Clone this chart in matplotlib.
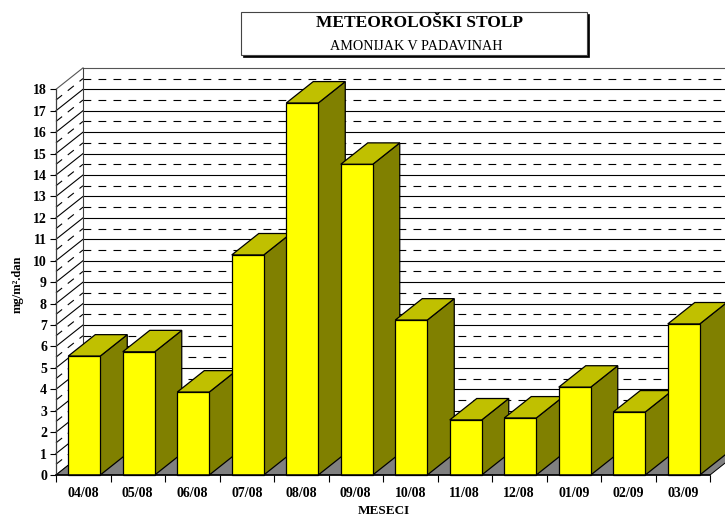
import matplotlib
matplotlib.use("Agg")
import matplotlib.pyplot as plt
from matplotlib.patches import Rectangle, Polygon

plt.rcParams['font.family'] = ['Liberation Serif', 'DejaVu Serif']

months = ['04/08', '05/08', '06/08', '07/08', '08/08', '09/08',
          '10/08', '11/08', '12/08', '01/09', '02/09', '03/09']
values = [5.55, 5.75, 3.87, 10.27, 17.36, 14.5, 7.23, 2.57, 2.66, 4.1, 2.94, 7.05]
title = 'METEOROLOŠKI STOLP'
subtitle = 'AMONIJAK V PADAVINAH'
xlabel = 'MESECI'
ylabel = 'mg/m².dan'

W, H = 725, 519
X0, X1, Y0, Y1 = 56, 710, 475, 89.3
DX = 27 / ((X1 - X0) / 12)   # depth in category units
DY = 1.0                     # depth in value units
BAR_OFF, BAR_W = 0.225, 0.587
YMAX = 18

fig = plt.figure(figsize=(W / 100, H / 100), dpi=100, facecolor='white')
ax = fig.add_axes([X0 / W, 1 - Y0 / H, (X1 - X0) / W, (Y0 - Y1) / H])
ax.set_xlim(0, 12)
ax.set_ylim(0, YMAX)
ax.patch.set_visible(False)
for s in ('top', 'right'):
    ax.spines[s].set_visible(False)
ax.spines['left'].set_color('#404040')
ax.spines['left'].set_linewidth(0.9)
ax.spines['bottom'].set_linewidth(1.1)
ax.spines['left'].set_zorder(30)
ax.spines['bottom'].set_zorder(30)

# tick scales
ax.set_yticks(range(0, YMAX + 1))
ax.set_yticklabels([str(v) for v in range(0, YMAX + 1)], fontsize=10, fontweight='bold')
ax.set_xticks(range(0, 13))
ax.set_xticklabels([''] * 13)
ax.set_xticks([i + 0.5 for i in range(12)], minor=True)
ax.set_xticklabels(months, minor=True, fontsize=10, fontweight='bold')
ax.tick_params(axis='x', which='minor', length=0, pad=8.5)
ax.tick_params(axis='x', which='major', length=4.7, width=0.8)
ax.tick_params(axis='y', which='major', length=4.3, width=0.8, pad=2.2)

# floor
ax.add_patch(Polygon([(0, 0), (DX, DY), (12 + DX, DY), (12, 0)], closed=True,
                     facecolor='#808080', edgecolor='black', lw=0.7, zorder=1.5, clip_on=False))

# walls: solid on whole values, dashed on half values
for k in range(0, 2 * YMAX + 1):
    v = k / 2
    whole = k % 2 == 0
    style = dict(color='#555555' if v == YMAX else 'black', lw=0.8, clip_on=False, zorder=1)
    if not whole:
        style['dashes'] = (7, 6.5)
    ax.plot([DX, 12 + DX], [v + DY, v + DY], **style)
    ax.plot([0, DX], [v, v + DY], **style)
ax.plot([DX, DX], [DY, YMAX + DY], color='#404040', lw=0.8, clip_on=False, zorder=1)

# bars
for i, v in enumerate(values):
    z = 2 + i * 0.1
    left = i + BAR_OFF
    right = left + BAR_W
    ax.add_patch(Polygon([(right, 0), (right + DX, DY), (right + DX, v + DY), (right, v)],
                         closed=True, facecolor='#808000', edgecolor='black', lw=0.9, zorder=z, clip_on=False))
    ax.add_patch(Polygon([(left, v), (left + DX, v + DY), (right + DX, v + DY), (right, v)],
                         closed=True, facecolor='#C0C000', edgecolor='black', lw=0.9, zorder=z, clip_on=False))
    ax.bar(left, v, width=BAR_W, align='edge', color='#FFFF00', edgecolor='black', linewidth=0.9,
           zorder=z + 0.01, clip_on=False)

# axis titles
fig.text(383.5 / W, 1 - 511.5 / H, xlabel, ha='center', va='center', fontsize=9.5, fontweight='bold')
fig.text(17.5 / W, 1 - 284 / H, ylabel, rotation=90, ha='center', va='center', fontsize=9, fontweight='bold')

# title box with shadow
fig.add_artist(Rectangle((243 / W, 1 - 57 / H), 346 / W, 43 / H, transform=fig.transFigure,
                         facecolor='black', edgecolor='black', lw=0.5))
fig.add_artist(Rectangle((241 / W, 1 - 55 / H), 346 / W, 43 / H, transform=fig.transFigure,
                         facecolor='white', edgecolor='#444444', lw=0.8))
fig.text(419.5 / W, 1 - 23.3 / H, title, ha='center', va='center', fontsize=12.5, fontweight='bold')
fig.text(416 / W, 1 - 46 / H, subtitle, ha='center', va='center', fontsize=10.2)

fig.savefig('out.png', dpi=100)
